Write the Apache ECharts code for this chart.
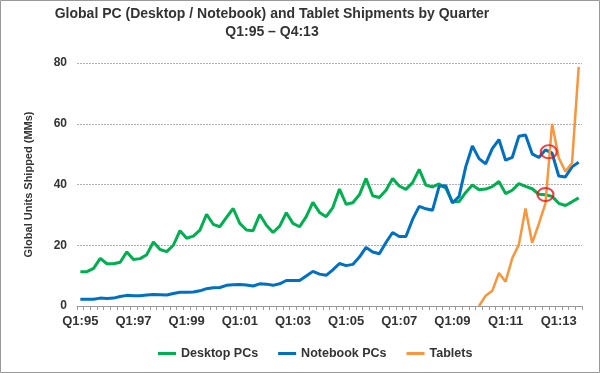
<!DOCTYPE html>
<html>
<head>
<meta charset="utf-8">
<script src="https://cdn.jsdelivr.net/npm/echarts@6/dist/echarts.min.js"></script>
<style>
html,body{margin:0;padding:0;background:#fff;}
#chart{width:600px;height:373px;}
</style>
</head>
<body>
<div id="chart"></div>
<script>
const quarters = [
"Q1:95","Q2:95","Q3:95","Q4:95","Q1:96","Q2:96","Q3:96","Q4:96",
"Q1:97","Q2:97","Q3:97","Q4:97","Q1:98","Q2:98","Q3:98","Q4:98",
"Q1:99","Q2:99","Q3:99","Q4:99","Q1:00","Q2:00","Q3:00","Q4:00",
"Q1:01","Q2:01","Q3:01","Q4:01","Q1:02","Q2:02","Q3:02","Q4:02",
"Q1:03","Q2:03","Q3:03","Q4:03","Q1:04","Q2:04","Q3:04","Q4:04",
"Q1:05","Q2:05","Q3:05","Q4:05","Q1:06","Q2:06","Q3:06","Q4:06",
"Q1:07","Q2:07","Q3:07","Q4:07","Q1:08","Q2:08","Q3:08","Q4:08",
"Q1:09","Q2:09","Q3:09","Q4:09","Q1:10","Q2:10","Q3:10","Q4:10",
"Q1:11","Q2:11","Q3:11","Q4:11","Q1:12","Q2:12","Q3:12","Q4:12",
"Q1:13","Q2:13","Q3:13","Q4:13"
];
const desktopPCs = [
11.3,11.3,12.4,15.7,13.9,13.9,14.4,17.8,
15.3,15.6,16.9,21.1,18.6,17.9,20.0,24.8,
22.3,23.0,25.0,30.2,26.9,26.1,29.2,32.1,
27.2,25.0,24.8,30.1,26.6,24.2,26.3,30.7,
27.2,26.1,29.4,34.1,30.8,29.4,32.4,38.5,
33.5,34.0,36.6,42.0,36.3,35.7,38.1,42.0,
39.5,38.4,40.6,45.0,39.8,39.2,40.2,38.8,
34.3,34.4,37.4,39.8,38.3,38.5,39.3,41.0,
37.0,38.1,40.3,39.4,38.6,36.8,36.6,36.1,
33.8,33.1,34.3,35.6
];
const notebookPCs = [
2.2,2.2,2.2,2.6,2.5,2.6,3.1,3.5,
3.4,3.4,3.6,3.8,3.7,3.6,4.1,4.5,
4.5,4.6,5.0,5.7,6.0,6.1,6.8,7.0,
7.1,6.9,6.6,7.3,7.2,6.8,7.3,8.4,
8.4,8.4,9.9,11.4,10.5,10.1,11.9,14.0,
13.3,13.7,16.1,19.3,17.8,17.2,20.9,24.2,
22.9,22.9,28.5,32.8,32.0,31.5,39.4,39.6,
33.9,36.1,45.8,52.7,48.5,46.8,51.8,54.8,
48.0,48.9,55.9,56.3,50.1,48.9,51.4,50.3,
42.8,42.5,45.8,47.3
];
const tablets = [
null,null,null,null,null,null,null,null,
null,null,null,null,null,null,null,null,
null,null,null,null,null,null,null,null,
null,null,null,null,null,null,null,null,
null,null,null,null,null,null,null,null,
null,null,null,null,null,null,null,null,
null,null,null,null,null,null,null,null,
null,null,null,null,0,3.4,5.0,10.9,
8.0,15.7,20.2,32.1,20.8,27.0,33.8,60.0,
48.8,44.3,47.1,78.7
];
// highlighted crossover points: [quarter position, value]
const circleMarks = [[70.5, 50.8],[70.0, 36.7]];
const yTicks = {min: 0, max: 80, interval: 20};

const chart = echarts.init(document.getElementById('chart'), null, {renderer: 'canvas'});
const txt = '#333';
const font = 'Liberation Sans, Arial, sans-serif';
chart.setOption({
  animation: false,
  backgroundColor: '#fff',
  textStyle: {fontFamily: font},
  title: {
    text: 'Global PC (Desktop / Notebook) and Tablet Shipments by Quarter\nQ1:95 \u2013 Q4:13',
    left: 272, top: 5, textAlign: 'center', padding: 0,
    textStyle: {fontSize: 14, fontWeight: 'bold', color: txt, lineHeight: 18, fontFamily: font}
  },
  legend: {
    data: ['Desktop PCs','Notebook PCs','Tablets'],
    left: 158, top: 347, padding: 0,
    icon: 'rect', itemWidth: 18, itemHeight: 3, itemGap: 20,
    textStyle: {fontSize: 12.5, fontWeight: 'bold', color: txt, fontFamily: font}
  },
  grid: {left: 77, right: 18, top: 63, bottom: 67, containLabel: false},
  xAxis: [{
    type: 'category', data: quarters, boundaryGap: true,
    axisLine: {lineStyle: {color: '#999', width: 1}},
    axisTick: {show: true, interval: 0, length: 4, lineStyle: {color: '#999'}},
    axisLabel: {interval: 7, margin: 9, fontSize: 13, fontWeight: 'bold', color: txt, fontFamily: font},
    splitLine: {show: false}
  },{
    type: 'value', min: -0.5, max: 75.5, show: false
  }],
  yAxis: {
    type: 'value', min: yTicks.min, max: yTicks.max, interval: yTicks.interval,
    name: 'Global Units Shipped (MMs)', nameLocation: 'middle', nameGap: 43,
    nameTextStyle: {fontSize: 11, fontWeight: 'bold', color: txt, fontFamily: font},
    axisLine: {show: false}, axisTick: {show: false},
    axisLabel: {margin: 10, fontSize: 12, fontWeight: 'bold', color: txt, fontFamily: font},
    splitLine: {show: true, lineStyle: {color: '#b0b0b0', type: [2, 1], width: 1}}
  },
  series: [
    {name: 'Desktop PCs', type: 'line', data: desktopPCs, showSymbol: false, symbol: 'none',
     lineStyle: {color: '#00B050', width: 3}, itemStyle: {color: '#00B050'}},
    {name: 'Notebook PCs', type: 'line', data: notebookPCs, showSymbol: false, symbol: 'none',
     lineStyle: {color: '#0070C0', width: 3}, itemStyle: {color: '#0070C0'}},
    {name: 'Tablets', type: 'line', data: tablets, showSymbol: false, symbol: 'none',
     lineStyle: {color: '#F7963C', width: 2.5}, itemStyle: {color: '#F7963C'}},
    {name: 'marks', type: 'scatter', xAxisIndex: 1, data: circleMarks, symbol: 'circle',
     symbolSize: [16, 13], z: 10, silent: true,
     itemStyle: {color: 'rgba(0,0,0,0)', borderColor: '#E8141C', borderWidth: 2}}
  ],
  graphic: [{
    type: 'rect', silent: true, z: 100,
    shape: {x: 0.5, y: 0.5, width: 599, height: 372},
    style: {fill: 'none', stroke: '#999', lineWidth: 1}
  }]
});
</script>
</body>
</html>
